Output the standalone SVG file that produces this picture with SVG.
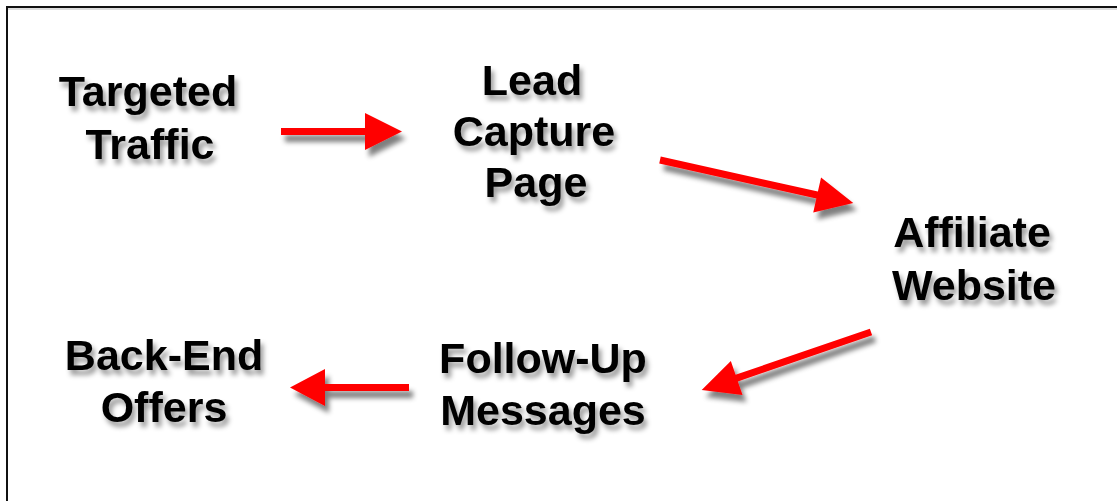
<svg xmlns="http://www.w3.org/2000/svg" width="1117" height="501" viewBox="0 0 1117 501">
  <defs>
    <filter id="tshadow" x="-20%" y="-30%" width="140%" height="170%">
      <feGaussianBlur in="SourceAlpha" stdDeviation="2.5"/>
      <feOffset dx="3" dy="5" result="b"/>
      <feFlood flood-color="#000" flood-opacity="0.4"/>
      <feComposite in2="b" operator="in" result="s"/>
      <feMerge><feMergeNode in="s"/><feMergeNode in="SourceGraphic"/></feMerge>
    </filter>
    <filter id="ashadow" filterUnits="userSpaceOnUse" x="0" y="0" width="1117" height="501">
      <feGaussianBlur in="SourceAlpha" stdDeviation="2.5"/>
      <feOffset dx="4" dy="7" result="b"/>
      <feFlood flood-color="#000" flood-opacity="0.5"/>
      <feComposite in2="b" operator="in" result="s"/>
      <feMerge><feMergeNode in="s"/><feMergeNode in="SourceGraphic"/></feMerge>
    </filter>
  </defs>
  <style>
    .lbl { font-family: "Liberation Sans", Arial, sans-serif; font-weight: bold; font-size: 43px; fill: #000; text-anchor: middle; filter: url(#tshadow); }
    .arrow { fill: #ff0000; }
    .sh { filter: url(#ashadow); }
  </style>
  <rect width="1117" height="501" fill="#fff"/>
  <path d="M7,501 V7 H1117" fill="none" stroke="#111" stroke-width="2"/>
  <line x1="8" y1="9" x2="1117" y2="9" stroke="#bbb" stroke-width="1"/>

  <g id="connectors">
    <g class="sh"><polygon class="arrow" transform="translate(281,131.5)" points="0,-3.5 84,-3.5 84,-18.5 121,0 84,18.5 84,3.5 0,3.5"/></g>
    <g class="sh"><polygon class="arrow" transform="translate(660,160) rotate(12.56)" points="0,-3.5 161,-3.5 161,-18 198,0 161,18 161,3.5 0,3.5"/></g>
    <g class="sh"><polygon class="arrow" transform="translate(871,332) rotate(161.06)" points="0,-3.5 142,-3.5 142,-18 179,0 142,18 142,3.5 0,3.5"/></g>
    <g class="sh"><polygon class="arrow" transform="translate(409,387.5) rotate(180)" points="0,-3.5 84,-3.5 84,-18.5 119,0 84,18.5 84,3.5 0,3.5"/></g>
  </g>

  <g id="node-targeted-traffic">
    <text class="lbl" x="148" y="106">Targeted</text>
    <text class="lbl" x="150" y="159">Traffic</text>
  </g>
  <g id="node-lead-capture-page">
    <text class="lbl" x="532" y="95">Lead</text>
    <text class="lbl" x="534" y="146">Capture</text>
    <text class="lbl" x="536" y="197">Page</text>
  </g>
  <g id="node-affiliate-website">
    <text class="lbl" x="972" y="247">Affiliate</text>
    <text class="lbl" x="974" y="300">Website</text>
  </g>
  <g id="node-follow-up-messages">
    <text class="lbl" x="543" y="373">Follow-Up</text>
    <text class="lbl" x="543" y="425">Messages</text>
  </g>
  <g id="node-back-end-offers">
    <text class="lbl" x="164" y="370">Back-End</text>
    <text class="lbl" x="164" y="422">Offers</text>
  </g>
</svg>
